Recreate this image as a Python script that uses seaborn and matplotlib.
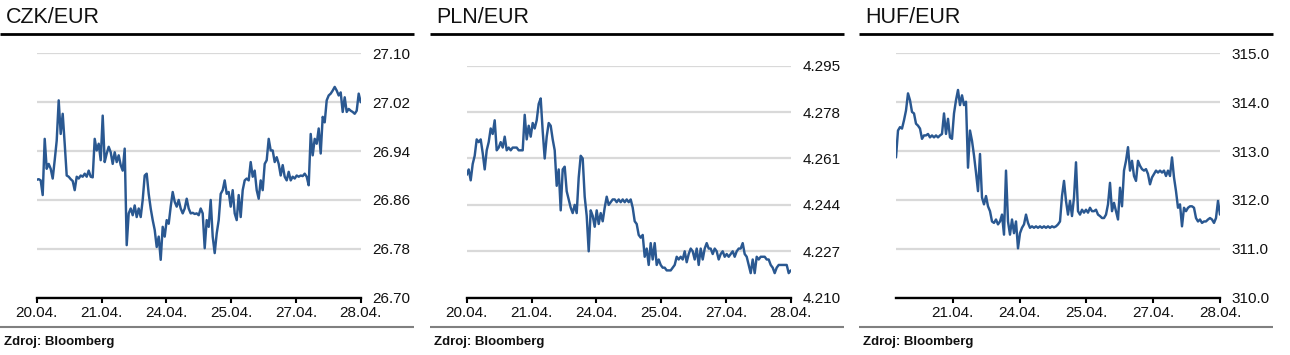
import matplotlib
matplotlib.use("Agg")
import matplotlib.pyplot as plt
from matplotlib.lines import Line2D
import numpy as np
import pandas as pd
import seaborn as sns

# --- data ---
x_labels = ['20.04.', '21.04.', '24.04.', '25.04.', '27.04.', '28.04.']

czk = [26.893, 26.894, 26.892, 26.868, 26.960, 26.911, 26.919, 26.911, 26.895, 26.925,
       26.957, 27.023, 26.968, 27.001, 26.952, 26.900, 26.898, 26.894, 26.891, 26.876,
       26.898, 26.895, 26.900, 26.898, 26.903, 26.898, 26.908, 26.898, 26.897, 26.960,
       26.941, 26.952, 26.925, 26.998, 26.922, 26.936, 26.947, 26.938, 26.919, 26.938,
       26.922, 26.933, 26.917, 26.908, 26.944, 26.786, 26.838, 26.846, 26.835, 26.851,
       26.832, 26.846, 26.832, 26.860, 26.900, 26.903, 26.870, 26.846, 26.827, 26.811,
       26.783, 26.800, 26.762, 26.816, 26.800, 26.827, 26.821, 26.849, 26.873, 26.857,
       26.849, 26.860, 26.846, 26.838, 26.846, 26.862, 26.846, 26.838, 26.839, 26.837,
       26.838, 26.835, 26.846, 26.838, 26.781, 26.827, 26.816, 26.860, 26.800, 26.773,
       26.805, 26.827, 26.870, 26.876, 26.892, 26.870, 26.873, 26.849, 26.876, 26.838,
       26.827, 26.868, 26.832, 26.876, 26.892, 26.895, 26.892, 26.922, 26.898, 26.908,
       26.876, 26.862, 26.892, 26.876, 26.919, 26.925, 26.960, 26.941, 26.941, 26.922,
       26.930, 26.919, 26.900, 26.917, 26.898, 26.892, 26.906, 26.892, 26.898, 26.895,
       26.900, 26.898, 26.900, 26.899, 26.903, 26.898, 26.884, 26.968, 26.933, 26.960,
       26.952, 26.977, 26.936, 26.996, 26.987, 27.023, 27.031, 27.034, 27.039, 27.045,
       27.039, 27.031, 27.036, 27.004, 27.028, 27.004, 27.009, 27.006, 27.004, 27.001,
       27.006, 27.034, 27.020]

pln = [4.255, 4.257, 4.253, 4.259, 4.262, 4.268, 4.267, 4.268, 4.263, 4.257,
       4.264, 4.267, 4.272, 4.270, 4.275, 4.264, 4.265, 4.267, 4.265, 4.269,
       4.264, 4.265, 4.264, 4.265, 4.265, 4.265, 4.264, 4.264, 4.264, 4.277,
       4.268, 4.273, 4.269, 4.274, 4.272, 4.275, 4.281, 4.283, 4.271, 4.261,
       4.269, 4.274, 4.273, 4.268, 4.264, 4.251, 4.257, 4.242, 4.257, 4.258,
       4.249, 4.246, 4.243, 4.241, 4.244, 4.241, 4.254, 4.262, 4.261, 4.247,
       4.240, 4.227, 4.242, 4.240, 4.236, 4.242, 4.237, 4.241, 4.238, 4.243,
       4.247, 4.244, 4.245, 4.246, 4.246, 4.245, 4.246, 4.245, 4.246, 4.245,
       4.246, 4.245, 4.246, 4.243, 4.238, 4.237, 4.233, 4.232, 4.233, 4.225,
       4.228, 4.222, 4.230, 4.224, 4.230, 4.222, 4.224, 4.222, 4.221, 4.221,
       4.220, 4.220, 4.220, 4.221, 4.222, 4.225, 4.224, 4.225, 4.224, 4.227,
       4.223, 4.226, 4.228, 4.227, 4.224, 4.228, 4.222, 4.228, 4.224, 4.228,
       4.230, 4.228, 4.228, 4.226, 4.228, 4.227, 4.224, 4.226, 4.227, 4.225,
       4.226, 4.225, 4.226, 4.227, 4.225, 4.227, 4.228, 4.228, 4.230, 4.226,
       4.225, 4.222, 4.219, 4.224, 4.219, 4.225, 4.224, 4.225, 4.225, 4.225,
       4.224, 4.224, 4.222, 4.221, 4.219, 4.221, 4.222, 4.222, 4.222, 4.222,
       4.222, 4.219, 4.220]

huf = [312.87, 313.42, 313.49, 313.46, 313.63, 313.83, 314.18, 314.04, 313.80, 313.77,
       313.56, 313.52, 313.46, 313.25, 313.32, 313.32, 313.35, 313.28, 313.32, 313.28,
       313.32, 313.28, 313.32, 313.35, 313.77, 313.35, 313.66, 313.28, 313.25, 313.77,
       314.04, 314.25, 313.94, 314.14, 313.94, 314.01, 312.66, 313.42, 313.21, 312.91,
       312.56, 312.18, 312.94, 312.05, 311.91, 312.08, 311.87, 311.77, 311.56, 311.53,
       311.60, 311.50, 311.56, 311.70, 311.29, 312.60, 311.56, 311.29, 311.60, 311.32,
       311.56, 311.01, 311.32, 311.43, 311.50, 311.70, 311.53, 311.43, 311.46, 311.43,
       311.46, 311.43, 311.46, 311.43, 311.46, 311.43, 311.46, 311.43, 311.46, 311.44,
       311.46, 311.50, 311.56, 312.08, 312.39, 311.98, 311.70, 311.98, 311.67, 312.05,
       312.77, 311.77, 311.70, 311.80, 311.74, 311.80, 311.74, 311.84, 311.77, 311.77,
       311.80, 311.70, 311.67, 311.63, 311.63, 311.70, 311.91, 312.35, 311.77, 311.94,
       311.77, 311.60, 312.25, 311.87, 312.60, 312.80, 313.08, 312.60, 312.80, 312.49,
       312.39, 312.80, 312.70, 312.63, 312.60, 312.63, 312.53, 312.32, 312.46, 312.53,
       312.60, 312.56, 312.60, 312.56, 312.60, 312.49, 312.60, 312.49, 312.87, 312.46,
       312.18, 311.84, 311.91, 311.46, 311.84, 311.77, 311.84, 311.87, 311.87, 311.84,
       311.63, 311.56, 311.60, 311.53, 311.56, 311.56, 311.60, 311.63, 311.60, 311.53,
       311.63, 311.98, 311.70]

czk_ticks = [26.70, 26.78, 26.86, 26.94, 27.02, 27.10]
pln_ticks = [4.210, 4.227, 4.244, 4.261, 4.278, 4.295]
huf_ticks = [310.0, 311.0, 312.0, 313.0, 314.0, 315.0]

# --- style ---
sns.set_style("white")
plt.rcParams['font.family'] = ['Liberation Sans', 'DejaVu Sans']

W, H = 1290, 355
fig = plt.figure(figsize=(W / 100, H / 100), dpi=100)
LINE_C = '#2a5891'


def box(left, top, right, bottom):
    return [left / W, 1 - bottom / H, (right - left) / W, (bottom - top) / H]


def hline(x0, x1, y, color, lw):
    fig.add_artist(Line2D([x0 / W, x1 / W], [1 - y / H, 1 - y / H],
                          transform=fig.transFigure, color=color, lw=lw,
                          solid_capstyle='butt'))


panels = [
    dict(title='CZK/EUR', off=0, vals=czk, ticks=czk_ticks, fmt='{:.2f}',
         x0=0.0, top=53.3, xt=[0, 1, 2, 3, 4, 5], xl=x_labels, rline=414),
    dict(title='PLN/EUR', off=430, vals=pln, ticks=pln_ticks, fmt='{:.3f}',
         x0=0.0, top=65.7, xt=[0, 1, 2, 3, 4, 5], xl=x_labels, rline=844),
    dict(title='HUF/EUR', off=859.3, vals=huf, ticks=huf_ticks, fmt='{:.1f}',
         x0=0.15, top=53.3, xt=[1, 2, 3, 4, 5], xl=x_labels[1:], rline=1272.7),
]

for p in panels:
    off = p['off']
    ax = fig.add_axes(box(off + 36.7, p['top'], off + 360.7, 297.7))
    df = pd.DataFrame({'t': np.linspace(p['x0'], 5, len(p['vals'])),
                       'v': p['vals']})
    sns.lineplot(data=df, x='t', y='v', ax=ax, color=LINE_C, linewidth=1.75,
                 estimator=None)
    ax.set_xlim(p['x0'], 5)
    ax.set_ylim(p['ticks'][0], p['ticks'][-1])
    ax.set_xlabel('')
    ax.set_ylabel('')

    ax.yaxis.tick_right()
    ax.set_yticks(p['ticks'])
    ax.set_yticklabels([p['fmt'].format(v) for v in p['ticks']])
    ax.tick_params(axis='y', length=0, pad=8.5, labelsize=11, colors='#111111')
    ax.set_xticks(p['xt'])
    ax.set_xticklabels(p['xl'])
    ax.tick_params(axis='x', direction='out', length=3.5, width=1.5,
                   pad=2.5, labelsize=11, colors='black', labelcolor='#111111',
                   bottom=True)

    ax.grid(False)
    ax.yaxis.grid(True, color='#d9d9d9', linewidth=1.6)
    ax.set_axisbelow(True)
    for s in ['top', 'left', 'right']:
        ax.spines[s].set_visible(False)
    ax.spines['bottom'].set_color('black')
    ax.spines['bottom'].set_linewidth(1.7)

    fig.text((off + 6) / W, 1 - 23.3 / H, p['title'], fontsize=15.5,
             va='baseline', ha='left', color='#111111')
    hline(off, p['rline'], 34, 'black', 2.0)
    hline(off, p['rline'], 326.7, '#808080', 1.5)
    fig.text((off + 4) / W, 1 - 344.5 / H, 'Zdroj: Bloomberg', fontsize=9.5,
             fontweight='bold', va='baseline', ha='left', color='#111111')

fig.savefig('out.png', dpi=100)
